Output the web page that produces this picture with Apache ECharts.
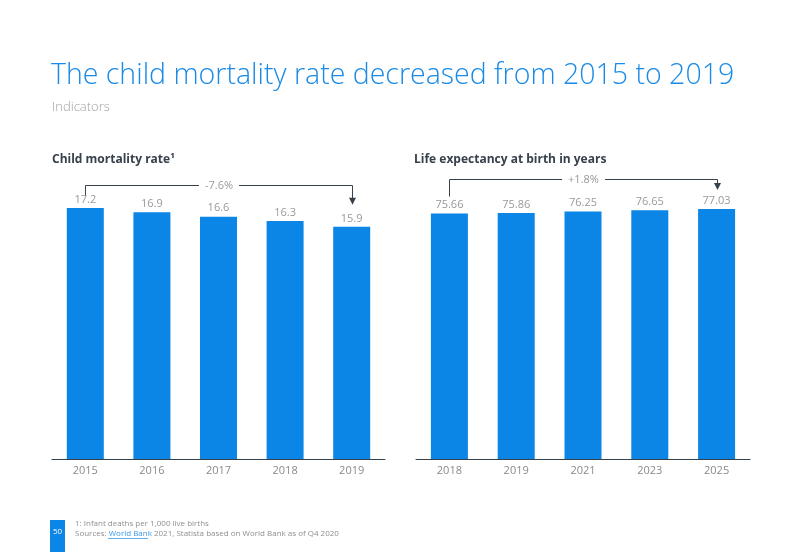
<!DOCTYPE html>
<html><head><meta charset="utf-8">
<script src="https://cdn.jsdelivr.net/npm/echarts@6/dist/echarts.min.js"></script>
<style>html,body{margin:0;padding:0;background:#fff}#c{width:797px;height:552px}</style>
</head><body><div id="c"></div>
<script>
const leftCats = ['2015','2016','2017','2018','2019'];
const leftVals = [17.2, 16.9, 16.6, 16.3, 15.9];
const leftLabels = ['17.2','16.9','16.6','16.3','15.9'];
const rightCats = ['2018','2019','2021','2023','2025'];
const rightVals = [75.66, 75.86, 76.25, 76.65, 77.03];
const rightLabels = ['75.66','75.86','76.25','76.65','77.03'];
const leftChange = '-7.6%';
const rightChange = '+1.8%';

const BLUE = '#0b86e6';
const DARK = '#36414c';
const FONT = '"Open Sans", sans-serif';
const chart = echarts.init(document.getElementById('c'), null, {renderer:'canvas'});

function labelFmt(arr){ return p => arr[p.dataIndex]; }

const option = {
  animation: false,
  textStyle: {fontFamily: FONT},
  title: [
    {text: 'The child mortality rate decreased from 2015 to 2019', left: 51, top: 61, padding: 0,
     textStyle: {fontFamily: FONT, fontSize: 28.5, fontWeight: 300, color: '#1a8ae6'}},
    {text: 'Indicators', left: 52, top: 101, padding: 0,
     textStyle: {fontFamily: FONT, fontSize: 13, fontWeight: 300, color: '#a0a0a0'}},
    {text: 'Child mortality rate¹', left: 52, top: 154, padding: 0,
     textStyle: {fontFamily: FONT, fontSize: 12, fontWeight: 'bold', color: DARK}},
    {text: 'Life expectancy at birth in years', left: 414, top: 154, padding: 0,
     textStyle: {fontFamily: FONT, fontSize: 12, fontWeight: 'bold', color: DARK}}
  ],
  grid: [
    {left: 52, width: 333, top: 167, height: 292},
    {left: 416, width: 334, top: 167, height: 292}
  ],
  xAxis: [
    {type: 'category', gridIndex: 0, data: leftCats,
     axisLine: {lineStyle: {color: DARK, width: 1}}, axisTick: {show: false},
     axisLabel: {color: '#8a8a8a', fontSize: 11, margin: 6, fontFamily: FONT}},
    {type: 'category', gridIndex: 1, data: rightCats,
     axisLine: {lineStyle: {color: DARK, width: 1}}, axisTick: {show: false},
     axisLabel: {color: '#8a8a8a', fontSize: 11, margin: 6, fontFamily: FONT}}
  ],
  yAxis: [
    {type: 'value', gridIndex: 0, min: 0, max: 20, show: false, splitLine: {show: false}},
    {type: 'value', gridIndex: 1, min: 0, max: 90, show: false, splitLine: {show: false}}
  ],
  series: [
    {type: 'bar', xAxisIndex: 0, yAxisIndex: 0, data: leftVals, barWidth: 37,
     itemStyle: {color: BLUE},
     label: {show: true, position: 'top', distance: 3, color: '#999999', fontSize: 11, fontFamily: FONT, formatter: labelFmt(leftLabels)}},
    {type: 'bar', xAxisIndex: 1, yAxisIndex: 1, data: rightVals, barWidth: 37,
     itemStyle: {color: BLUE},
     label: {show: true, position: 'top', distance: 3, color: '#999999', fontSize: 11, fontFamily: FONT, formatter: labelFmt(rightLabels)}}
  ]
};
chart.setOption(option);

function bracket(gridIdx, cats, vals, text, startOff, hOff, tipOff) {
  const first = chart.convertToPixel({xAxisIndex: gridIdx, yAxisIndex: gridIdx}, [cats[0], vals[0]]);
  const last = chart.convertToPixel({xAxisIndex: gridIdx, yAxisIndex: gridIdx}, [cats[cats.length-1], vals[vals.length-1]]);
  const maxV = Math.max.apply(null, vals);
  const topY = chart.convertToPixel({yAxisIndex: gridIdx}, maxV);
  const x1 = Math.round(first[0]) + 0.5, x2 = Math.round(last[0]) + 0.5;
  const yStart = first[1] - startOff;
  const yH = Math.round(topY - hOff) + 0.5;
  const yTip = last[1] - tipOff;
  const midX = (x1 + x2) / 2;
  return [
    {type: 'polyline', shape: {points: [[x1, yStart], [x1, yH], [x2, yH], [x2, yTip - 6]]},
     style: {stroke: DARK, lineWidth: 1, fill: null}},
    {type: 'polygon', shape: {points: [[x2 - 3.5, yTip - 7], [x2 + 3.5, yTip - 7], [x2, yTip]]},
     style: {fill: DARK}},
    {type: 'text', x: midX, y: yH,
     style: {text: text, fill: '#999999', font: '11px ' + FONT, align: 'center', verticalAlign: 'middle',
             backgroundColor: '#fff', padding: [0, 6]}}
  ];
}

const graphics = []
  .concat(bracket(0, leftCats, leftVals, leftChange, 12, 23, 22))
  .concat(bracket(1, rightCats, rightVals, rightChange, 17, 30, 19));

graphics.push(
  {type: 'rect', shape: {x: 50, y: 520, width: 15, height: 32}, style: {fill: BLUE}},
  {type: 'text', x: 57.5, y: 532, style: {text: '50', fill: '#fff', font: '8px ' + FONT, align: 'center', verticalAlign: 'middle'}},
  {type: 'text', x: 75, y: 524, style: {text: '1: Infant deaths per 1,000 live births', fill: '#8f8f8f', font: '8px ' + FONT, verticalAlign: 'middle'}},
  {type: 'text', x: 75, y: 534, style: {
    text: '{a|Sources: }{b|World Bank }{a|2021, Statista based on World Bank as of Q4 2020}',
    verticalAlign: 'middle',
    rich: {
      a: {fill: '#8f8f8f', font: '8px ' + FONT},
      b: {fill: '#3d9be9', font: '8px ' + FONT}
    }}},
  {type: 'line', shape: {x1: 108, y1: 538.5, x2: 148, y2: 538.5}, style: {stroke: '#3d9be9', lineWidth: 0.8}}
);
chart.setOption({graphic: graphics});
</script>
</body></html>
